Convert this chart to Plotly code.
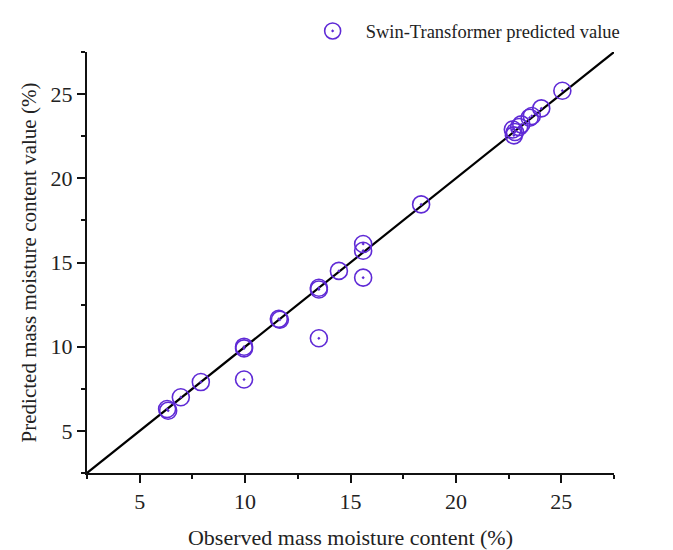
import plotly.graph_objects as go

# Data
observed = [6.3, 6.35, 6.95, 7.9, 9.95, 9.95, 9.95, 11.6, 11.65, 13.5, 13.5, 13.5,
            14.45, 15.6, 15.6, 15.6, 18.35, 22.7, 22.75, 22.8, 23.0, 23.1, 23.5,
            23.6, 24.05, 25.05]
predicted = [6.3, 6.2, 7.0, 7.9, 10.0, 9.9, 8.05, 11.65, 11.6, 13.5, 13.4, 10.5,
             14.5, 16.1, 15.7, 14.1, 18.45, 22.9, 22.55, 22.75, 23.05, 23.2, 23.6,
             23.7, 24.15, 25.2]
identity_line = [2.5, 27.5]
tick_values = [5, 10, 15, 20, 25]
series_name = "Swin-Transformer predicted value"

FONT = "Liberation Serif, Times New Roman, serif"
PURPLE = "#5f2ad6"
TXT = "#222"

fig = go.Figure()
fig.add_trace(go.Scatter(
    x=identity_line, y=identity_line, mode="lines",
    line=dict(color="black", width=2.2), showlegend=False, hoverinfo="skip"))
fig.add_trace(go.Scatter(
    x=observed, y=predicted, mode="markers", name=series_name,
    marker=dict(symbol="circle-open-dot", size=17, color=PURPLE,
                line=dict(color=PURPLE, width=1.6))))

axis_common = dict(
    range=[2.5, 27.5], tickvals=tick_values, ticks="outside", ticklen=8,
    tickwidth=2, tickcolor="#111", showline=True, linecolor="#111", linewidth=2,
    showgrid=False, zeroline=False, mirror=False, automargin=False,
    tickfont=dict(family=FONT, size=22, color=TXT),
    minor=dict(dtick=2.5, tick0=0, ticks="outside", ticklen=4, tickwidth=2,
               tickcolor="#111", showgrid=False),
)

fig.update_layout(
    width=673, height=550,
    margin=dict(l=87, r=59, t=50, b=77),
    plot_bgcolor="white", paper_bgcolor="white",
    xaxis=dict(**axis_common,
               title=dict(text="Observed mass moisture content (%)",
                          font=dict(family=FONT, size=22, color=TXT),
                          standoff=20)),
    yaxis=dict(**axis_common,
               title=dict(text="Predicted mass moisture content value (%)",
                          font=dict(family=FONT, size=21, color=TXT),
                          standoff=8)),
    legend=dict(x=0.4035, y=1.094, xanchor="left", yanchor="top",
                orientation="h", entrywidth=255, entrywidthmode="pixels",
                itemwidth=56, bgcolor="rgba(0,0,0,0)",
                font=dict(family=FONT, size=18.5, color=TXT)),
)

fig.write_html("out.html")
